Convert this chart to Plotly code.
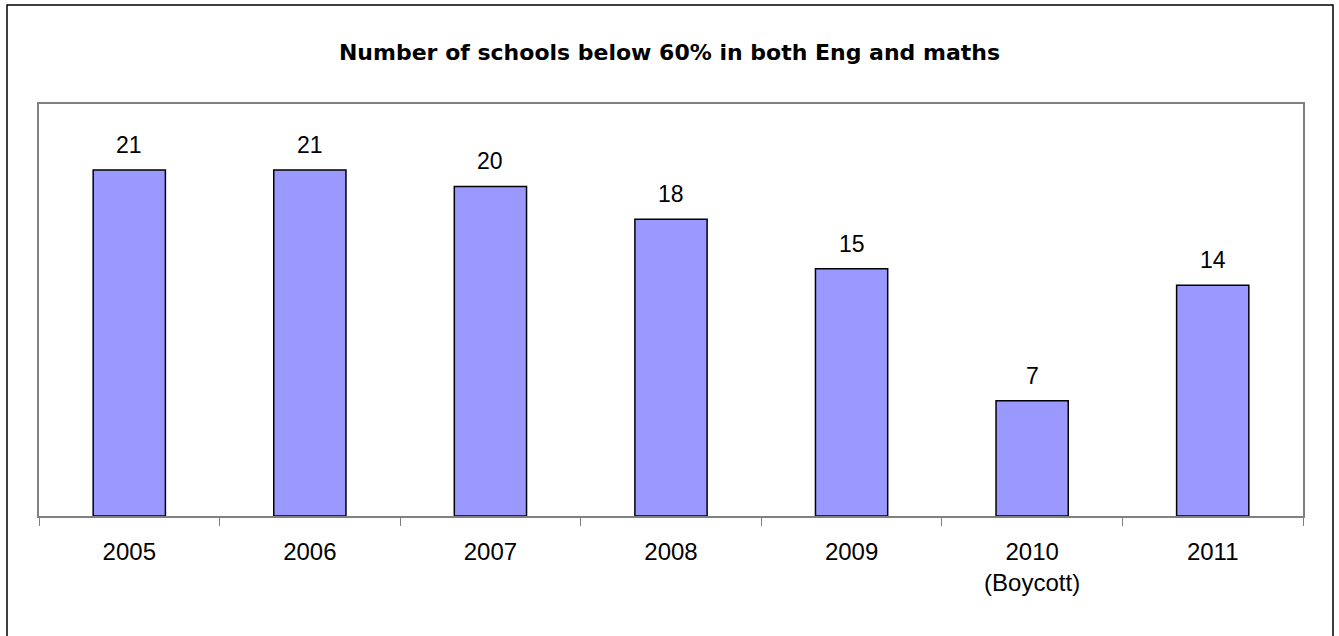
import plotly.graph_objects as go

years = ["2005", "2006", "2007", "2008", "2009", "2010<br>(Boycott)", "2011"]
schools = [21, 21, 20, 18, 15, 7, 14]

W, H = 1339, 636
L, R, T, B = 39, 36, 104, 120

fig = go.Figure()
fig.add_trace(go.Bar(
    x=years,
    y=schools,
    width=0.4,
    marker=dict(color="#9999FF", line=dict(color="black", width=1.5)),
    hoverinfo="y",
))

# value labels (category index used, since "2005" would be read as an index)
for i, v in enumerate(schools):
    fig.add_annotation(
        x=i, y=v, text=str(v), showarrow=False,
        yanchor="bottom", yshift=10,
        font=dict(family="Liberation Sans, Arial", size=23, color="black"),
    )

pw = W - L - R
ph = H - T - B
# outer chart border (bottom edge runs off the picture)
fig.add_shape(
    type="rect", xref="paper", yref="paper",
    x0=(7 - L) / pw, x1=(1333 - L) / pw,
    y0=-(650 - T - ph) / ph, y1=1 + (T - 5) / ph,
    line=dict(color="black", width=1.5), fillcolor="rgba(0,0,0,0)",
)

fig.update_layout(
    width=W, height=H,
    margin=dict(l=L, r=R, t=T, b=B),
    paper_bgcolor="white", plot_bgcolor="white",
    title=dict(
        text="<b>Number of schools below 60% in both Eng and maths</b>",
        x=0.5, xanchor="center", y=1 - 52 / H, yanchor="middle",
        font=dict(family="DejaVu Sans", size=22, color="black"),
    ),
    showlegend=False,
    bargap=0.6,
)
fig.update_xaxes(
    type="category",
    showline=True, linecolor="#808080", linewidth=2, mirror=True,
    ticks="outside", tickson="boundaries", ticklen=8, tickcolor="#808080",
    tickfont=dict(family="Liberation Sans, Arial", size=24, color="black"),
    ticklabelstandoff=13,
    tickangle=0, showgrid=False,
)
fig.update_yaxes(
    range=[0, 25], showline=True, linecolor="#808080", linewidth=2, mirror=True,
    showticklabels=False, showgrid=False, zeroline=False, ticks="",
)

fig.write_html(
    "out.html",
    config={"displayModeBar": False},
    post_script="document.body.style.margin='0';",
)
